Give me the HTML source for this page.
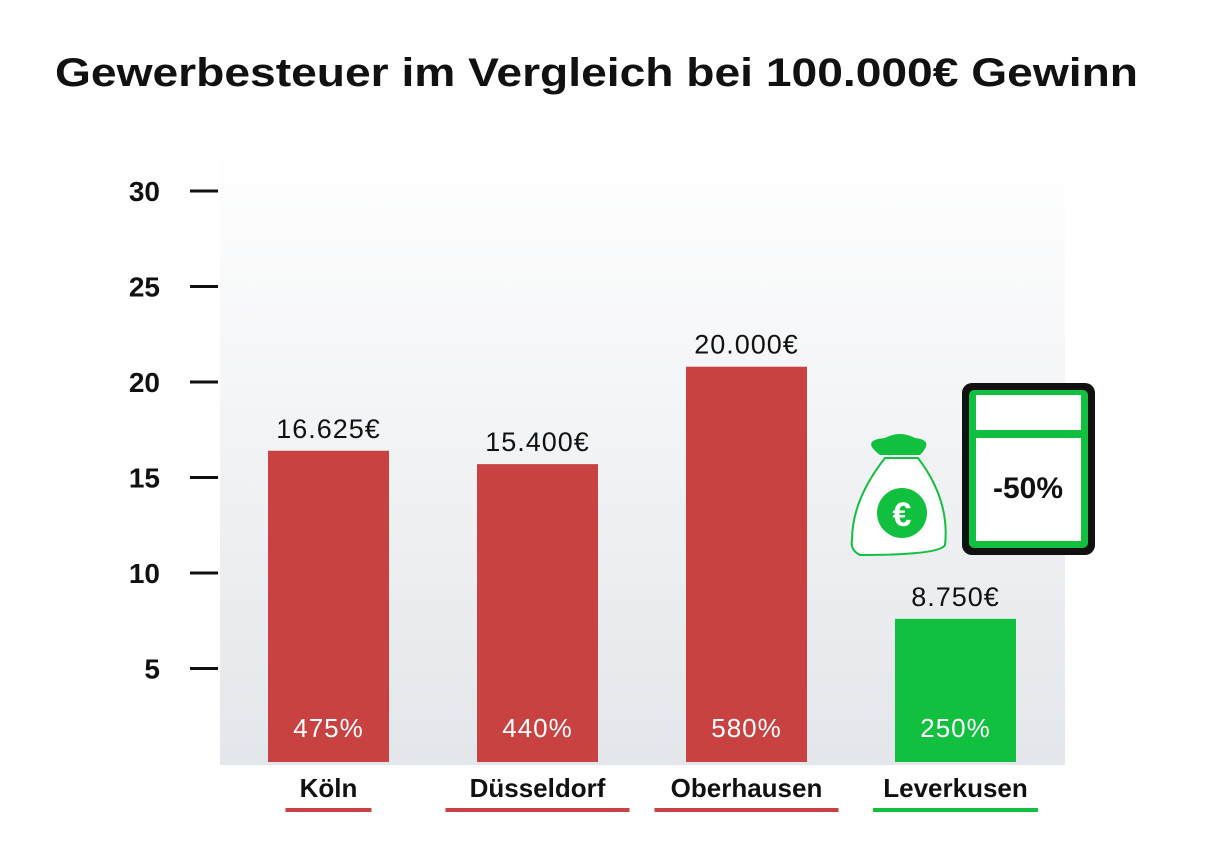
<!DOCTYPE html>
<html><head><meta charset="utf-8"><style>
body{margin:0;width:1209px;height:852px;background:#fff;overflow:hidden;font-family:"Liberation Sans","DejaVu Sans",sans-serif}
</style></head><body>
<svg width="1209" height="852">
<defs><linearGradient id="bg" x1="0" y1="0" x2="0" y2="1"><stop offset="0" stop-color="#ffffff"/><stop offset="1" stop-color="#e3e6ea"/></linearGradient></defs>
<text x="55" y="86" font-size="40" font-weight="bold" fill="#111" textLength="1083" lengthAdjust="spacingAndGlyphs">Gewerbesteuer im Vergleich bei 100.000€ Gewinn</text>
<rect x="220" y="148" width="845" height="617" fill="url(#bg)"/>
<g id="ticks"></g><g id="bars"></g>
<g>
<path d="M880 455 Q860 440 885 438 Q900 430 915 438 Q935 440 920 455 Z" fill="#12c040"/>
<path d="M885 458 L918 458 Q950 500 945 545 Q940 555 860 555 Q850 550 852 540 Q852 500 885 458 Z" fill="#fff" stroke="#12c040" stroke-width="2"/>
<circle cx="902" cy="513" r="25" fill="#12c040"/>
<text x="902" y="526" font-size="34" font-weight="bold" fill="#fff" text-anchor="middle">€</text>
</g>
<g>
<rect x="962" y="383" width="133" height="172" rx="10" fill="#111"/>
<rect x="969" y="390" width="119" height="158" rx="5" fill="#12c040"/>
<rect x="976" y="395" width="105" height="35" fill="#fff"/>
<rect x="976" y="438" width="105" height="103" fill="#fff"/>
<text x="1028" y="498" font-size="30" font-weight="bold" fill="#111" text-anchor="middle">-50%</text>
</g>
</svg>
<script>
const categories=["Köln","Düsseldorf","Oberhausen","Leverkusen"];
const values=[16.4,15.7,20.8,7.6];
const valueLabels=["16.625€","15.400€","20.000€","8.750€"];
const rateLabels=["475%","440%","580%","250%"];
const tickValues=[5,10,15,20,25,30];
const NS="http://www.w3.org/2000/svg";
function y(v){return 764-19.1*v;}
function x(i){return 268+i*209;}
const bw=121;
const ulw=[86,184,184,165];
function mk(t,a,p,txt){const e=document.createElementNS(NS,t);for(const k in a)e.setAttribute(k,a[k]);if(txt!==undefined)e.textContent=txt;p.appendChild(e);return e;}
const tg=document.getElementById('ticks'),bg=document.getElementById('bars');
tickValues.forEach(v=>{
 const l=mk('line',{x1:190,x2:218,y1:y(v),y2:y(v),stroke:'#111','stroke-width':3},tg);
 
 
 const t=mk('text',{x:160,y:y(v)+10,'font-size':28,'font-weight':'bold','text-anchor':'end',fill:'#111'},tg,String(v));
 
 
});
categories.forEach((c,i)=>{
 const green=i===3, col=green?'#12c040':'#c94242';
 const r=mk('rect',{x:x(i),y:y(values[i]),width:bw,height:y(0)-y(values[i])-2,fill:col},bg);
 
 
 const vl=mk('text',{x:x(i)+bw/2,y:y(values[i])-13,'font-size':27,'text-anchor':'middle',fill:'#111','letter-spacing':1},bg,valueLabels[i]);
 
 
 const pl=mk('text',{x:x(i)+bw/2,y:737,'font-size':26,'text-anchor':'middle',fill:'#fff','letter-spacing':1},bg,rateLabels[i]);
 
 
 const cl=mk('text',{x:x(i)+bw/2,y:797,'font-size':26,'font-weight':'bold','text-anchor':'middle',fill:'#111'},bg,c);
 
 
 const w=ulw[i];
 const u=mk('rect',{x:x(i)+bw/2-w/2,y:808,width:w,height:4,fill:col},bg);
 
 
});
</script>
</body></html>
